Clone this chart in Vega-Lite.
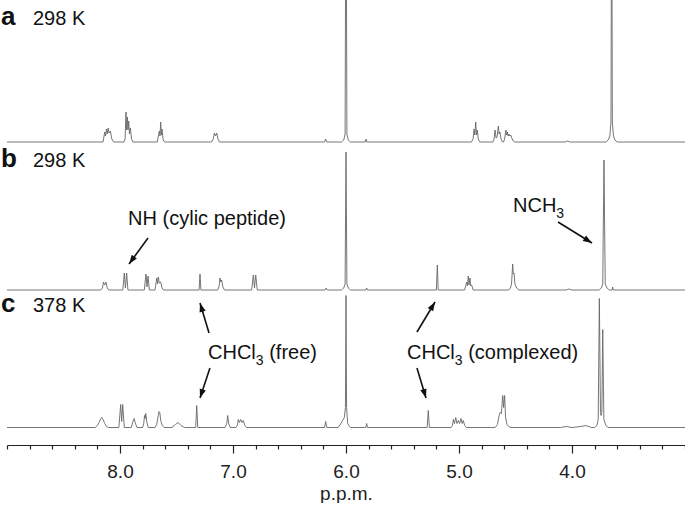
{
  "$schema": "https://vega.github.io/schema/vega-lite/v6.json",
  "padding": {"left": 1, "top": 0, "right": 0, "bottom": 0},
  "spacing": 0,
  "bounds": "flush",
  "config": {
    "view": {"stroke": null},
    "font": "Liberation Sans",
    "text": {"font": "Liberation Sans", "color": "#111"}
  },
  "datasets": {
    "a": [
      {"ppm": 9.0, "i": 0},
      {"ppm": 8.15, "i": 0}, {"ppm": 8.135, "i": 10}, {"ppm": 8.128, "i": 6}, {"ppm": 8.12, "i": 13}, {"ppm": 8.113, "i": 8}, {"ppm": 8.105, "i": 14}, {"ppm": 8.097, "i": 9}, {"ppm": 8.085, "i": 11}, {"ppm": 8.075, "i": 4}, {"ppm": 8.068, "i": 2}, {"ppm": 8.055, "i": 0},
      {"ppm": 7.965, "i": 0}, {"ppm": 7.955, "i": 3}, {"ppm": 7.947, "i": 30}, {"ppm": 7.941, "i": 12}, {"ppm": 7.935, "i": 25}, {"ppm": 7.929, "i": 12}, {"ppm": 7.923, "i": 21}, {"ppm": 7.916, "i": 8}, {"ppm": 7.908, "i": 14}, {"ppm": 7.898, "i": 3}, {"ppm": 7.885, "i": 0},
      {"ppm": 7.67, "i": 0}, {"ppm": 7.652, "i": 11}, {"ppm": 7.646, "i": 6}, {"ppm": 7.64, "i": 20}, {"ppm": 7.634, "i": 7}, {"ppm": 7.628, "i": 13}, {"ppm": 7.618, "i": 2}, {"ppm": 7.605, "i": 0},
      {"ppm": 7.19, "i": 0}, {"ppm": 7.175, "i": 3}, {"ppm": 7.165, "i": 9}, {"ppm": 7.155, "i": 6}, {"ppm": 7.144, "i": 9}, {"ppm": 7.133, "i": 3}, {"ppm": 7.12, "i": 0},
      {"ppm": 6.19, "i": 0}, {"ppm": 6.18, "i": 3}, {"ppm": 6.17, "i": 0},
      {"ppm": 6.04, "i": 0}, {"ppm": 6.02, "i": 2}, {"ppm": 6.008, "i": 8}, {"ppm": 6.0, "i": 300}, {"ppm": 5.992, "i": 8}, {"ppm": 5.98, "i": 2}, {"ppm": 5.96, "i": 0},
      {"ppm": 5.83, "i": 0}, {"ppm": 5.823, "i": 3}, {"ppm": 5.816, "i": 0},
      {"ppm": 4.89, "i": 0}, {"ppm": 4.875, "i": 3}, {"ppm": 4.867, "i": 13}, {"ppm": 4.86, "i": 7}, {"ppm": 4.852, "i": 20}, {"ppm": 4.845, "i": 7}, {"ppm": 4.838, "i": 12}, {"ppm": 4.83, "i": 3}, {"ppm": 4.815, "i": 0},
      {"ppm": 4.7, "i": 0}, {"ppm": 4.69, "i": 3}, {"ppm": 4.681, "i": 12}, {"ppm": 4.672, "i": 4}, {"ppm": 4.663, "i": 5}, {"ppm": 4.652, "i": 16}, {"ppm": 4.645, "i": 8}, {"ppm": 4.638, "i": 10}, {"ppm": 4.628, "i": 3}, {"ppm": 4.615, "i": 0},
      {"ppm": 4.605, "i": 0}, {"ppm": 4.595, "i": 4}, {"ppm": 4.585, "i": 12}, {"ppm": 4.578, "i": 7}, {"ppm": 4.572, "i": 10}, {"ppm": 4.565, "i": 6}, {"ppm": 4.558, "i": 8}, {"ppm": 4.55, "i": 6}, {"ppm": 4.542, "i": 7}, {"ppm": 4.533, "i": 4}, {"ppm": 4.52, "i": 1}, {"ppm": 4.505, "i": 0},
      {"ppm": 4.06, "i": 0}, {"ppm": 4.04, "i": 1}, {"ppm": 4.02, "i": 0},
      {"ppm": 3.7, "i": 0}, {"ppm": 3.68, "i": 2}, {"ppm": 3.665, "i": 6}, {"ppm": 3.655, "i": 20}, {"ppm": 3.649, "i": 300}, {"ppm": 3.643, "i": 20}, {"ppm": 3.633, "i": 6}, {"ppm": 3.62, "i": 2}, {"ppm": 3.6, "i": 0},
      {"ppm": 3.0, "i": 0}
    ],
    "b": [
      {"ppm": 9.0, "i": 0},
      {"ppm": 8.17, "i": 0}, {"ppm": 8.155, "i": 2}, {"ppm": 8.147, "i": 8}, {"ppm": 8.136, "i": 5}, {"ppm": 8.124, "i": 8}, {"ppm": 8.113, "i": 2}, {"ppm": 8.1, "i": 0},
      {"ppm": 7.975, "i": 0}, {"ppm": 7.962, "i": 17}, {"ppm": 7.952, "i": 2}, {"ppm": 7.941, "i": 17}, {"ppm": 7.93, "i": 0},
      {"ppm": 7.785, "i": 0}, {"ppm": 7.77, "i": 16}, {"ppm": 7.761, "i": 3}, {"ppm": 7.752, "i": 14}, {"ppm": 7.74, "i": 0},
      {"ppm": 7.69, "i": 0}, {"ppm": 7.675, "i": 12}, {"ppm": 7.668, "i": 6}, {"ppm": 7.661, "i": 13}, {"ppm": 7.652, "i": 7}, {"ppm": 7.64, "i": 8}, {"ppm": 7.628, "i": 2}, {"ppm": 7.615, "i": 0},
      {"ppm": 7.3, "i": 0}, {"ppm": 7.292, "i": 16}, {"ppm": 7.284, "i": 0},
      {"ppm": 7.135, "i": 0}, {"ppm": 7.123, "i": 4}, {"ppm": 7.115, "i": 12}, {"ppm": 7.108, "i": 8}, {"ppm": 7.1, "i": 10}, {"ppm": 7.09, "i": 3}, {"ppm": 7.075, "i": 0},
      {"ppm": 6.835, "i": 0}, {"ppm": 6.82, "i": 15}, {"ppm": 6.81, "i": 2}, {"ppm": 6.799, "i": 15}, {"ppm": 6.785, "i": 0},
      {"ppm": 6.185, "i": 0}, {"ppm": 6.175, "i": 2}, {"ppm": 6.165, "i": 0},
      {"ppm": 6.04, "i": 0}, {"ppm": 6.02, "i": 2}, {"ppm": 6.008, "i": 6}, {"ppm": 6.0, "i": 138}, {"ppm": 5.992, "i": 6}, {"ppm": 5.98, "i": 2}, {"ppm": 5.96, "i": 0},
      {"ppm": 5.825, "i": 0}, {"ppm": 5.817, "i": 2}, {"ppm": 5.81, "i": 0},
      {"ppm": 5.2, "i": 0}, {"ppm": 5.192, "i": 25}, {"ppm": 5.184, "i": 0},
      {"ppm": 4.95, "i": 0}, {"ppm": 4.932, "i": 8}, {"ppm": 4.925, "i": 4}, {"ppm": 4.918, "i": 14}, {"ppm": 4.911, "i": 5}, {"ppm": 4.903, "i": 12}, {"ppm": 4.896, "i": 4}, {"ppm": 4.888, "i": 5}, {"ppm": 4.875, "i": 0},
      {"ppm": 4.56, "i": 0}, {"ppm": 4.545, "i": 2}, {"ppm": 4.535, "i": 6}, {"ppm": 4.525, "i": 26}, {"ppm": 4.519, "i": 16}, {"ppm": 4.513, "i": 17}, {"ppm": 4.505, "i": 6}, {"ppm": 4.49, "i": 2}, {"ppm": 4.47, "i": 0},
      {"ppm": 4.05, "i": 0}, {"ppm": 4.03, "i": 1}, {"ppm": 4.0, "i": 0},
      {"ppm": 3.76, "i": 0}, {"ppm": 3.74, "i": 2}, {"ppm": 3.728, "i": 6}, {"ppm": 3.717, "i": 130}, {"ppm": 3.706, "i": 6}, {"ppm": 3.69, "i": 2}, {"ppm": 3.67, "i": 0},
      {"ppm": 3.645, "i": 0}, {"ppm": 3.64, "i": 3}, {"ppm": 3.635, "i": 0},
      {"ppm": 3.0, "i": 0}
    ],
    "c": [
      {"ppm": 9.0, "i": 0},
      {"ppm": 8.22, "i": 0}, {"ppm": 8.2, "i": 2}, {"ppm": 8.185, "i": 5}, {"ppm": 8.17, "i": 9}, {"ppm": 8.16, "i": 10}, {"ppm": 8.15, "i": 8}, {"ppm": 8.135, "i": 4}, {"ppm": 8.12, "i": 1}, {"ppm": 8.1, "i": 0},
      {"ppm": 8.01, "i": 0}, {"ppm": 7.994, "i": 23}, {"ppm": 7.985, "i": 6}, {"ppm": 7.976, "i": 23}, {"ppm": 7.962, "i": 0},
      {"ppm": 7.9, "i": 0}, {"ppm": 7.886, "i": 6}, {"ppm": 7.876, "i": 9}, {"ppm": 7.866, "i": 5}, {"ppm": 7.85, "i": 0},
      {"ppm": 7.8, "i": 0}, {"ppm": 7.79, "i": 4}, {"ppm": 7.783, "i": 12}, {"ppm": 7.778, "i": 9}, {"ppm": 7.772, "i": 14}, {"ppm": 7.762, "i": 5}, {"ppm": 7.75, "i": 0},
      {"ppm": 7.69, "i": 0}, {"ppm": 7.675, "i": 3}, {"ppm": 7.662, "i": 12}, {"ppm": 7.655, "i": 16}, {"ppm": 7.648, "i": 15}, {"ppm": 7.638, "i": 6}, {"ppm": 7.625, "i": 2}, {"ppm": 7.61, "i": 0},
      {"ppm": 7.54, "i": 0}, {"ppm": 7.51, "i": 3}, {"ppm": 7.485, "i": 5}, {"ppm": 7.46, "i": 2}, {"ppm": 7.43, "i": 0},
      {"ppm": 7.33, "i": 0}, {"ppm": 7.321, "i": 22}, {"ppm": 7.312, "i": 0},
      {"ppm": 7.07, "i": 0}, {"ppm": 7.055, "i": 4}, {"ppm": 7.047, "i": 12}, {"ppm": 7.038, "i": 4}, {"ppm": 7.025, "i": 0},
      {"ppm": 6.975, "i": 0}, {"ppm": 6.962, "i": 2}, {"ppm": 6.953, "i": 8}, {"ppm": 6.943, "i": 5}, {"ppm": 6.932, "i": 8}, {"ppm": 6.92, "i": 5}, {"ppm": 6.909, "i": 7}, {"ppm": 6.895, "i": 2}, {"ppm": 6.88, "i": 0},
      {"ppm": 6.19, "i": 0}, {"ppm": 6.18, "i": 6}, {"ppm": 6.17, "i": 0},
      {"ppm": 6.07, "i": 0}, {"ppm": 6.045, "i": 4}, {"ppm": 6.03, "i": 7}, {"ppm": 6.015, "i": 10}, {"ppm": 6.005, "i": 20}, {"ppm": 6.0, "i": 132}, {"ppm": 5.995, "i": 20}, {"ppm": 5.985, "i": 4}, {"ppm": 5.975, "i": 2}, {"ppm": 5.96, "i": 0},
      {"ppm": 5.825, "i": 0}, {"ppm": 5.817, "i": 4}, {"ppm": 5.81, "i": 0},
      {"ppm": 5.282, "i": 0}, {"ppm": 5.272, "i": 17}, {"ppm": 5.262, "i": 0},
      {"ppm": 5.07, "i": 0}, {"ppm": 5.058, "i": 2}, {"ppm": 5.05, "i": 8}, {"ppm": 5.04, "i": 4}, {"ppm": 5.029, "i": 10}, {"ppm": 5.018, "i": 4}, {"ppm": 5.006, "i": 7}, {"ppm": 4.995, "i": 4}, {"ppm": 4.982, "i": 9}, {"ppm": 4.972, "i": 4}, {"ppm": 4.962, "i": 7}, {"ppm": 4.95, "i": 2}, {"ppm": 4.935, "i": 0},
      {"ppm": 4.68, "i": 0}, {"ppm": 4.66, "i": 3}, {"ppm": 4.645, "i": 12}, {"ppm": 4.637, "i": 15}, {"ppm": 4.625, "i": 14}, {"ppm": 4.613, "i": 32}, {"ppm": 4.605, "i": 20}, {"ppm": 4.596, "i": 32}, {"ppm": 4.588, "i": 10}, {"ppm": 4.575, "i": 3}, {"ppm": 4.56, "i": 1}, {"ppm": 4.54, "i": 0},
      {"ppm": 4.1, "i": 0}, {"ppm": 4.05, "i": 1}, {"ppm": 4.0, "i": 0}, {"ppm": 3.92, "i": 1}, {"ppm": 3.88, "i": 2}, {"ppm": 3.85, "i": 1}, {"ppm": 3.83, "i": 0},
      {"ppm": 3.8, "i": 0}, {"ppm": 3.78, "i": 2}, {"ppm": 3.768, "i": 8}, {"ppm": 3.758, "i": 129}, {"ppm": 3.748, "i": 15}, {"ppm": 3.743, "i": 12}, {"ppm": 3.736, "i": 15}, {"ppm": 3.728, "i": 98}, {"ppm": 3.718, "i": 8}, {"ppm": 3.7, "i": 2}, {"ppm": 3.68, "i": 0},
      {"ppm": 3.0, "i": 0}
    ],
    "letA": [{"t": "a", "ppm": 9.0, "i": 117}],
    "tempA": [{"t": "298 K", "ppm": 8.77, "i": 117}],
    "letB": [{"t": "b", "ppm": 9.0, "i": 123}],
    "tempB": [{"t": "298 K", "ppm": 8.77, "i": 123}],
    "letC": [{"t": "c", "ppm": 9.0, "i": 115.5}],
    "tempC": [{"t": "378 K", "ppm": 8.77, "i": 115.5}],
    "annBcenter": [{"t": "NH (cylic peptide)", "ppm": 7.23, "i": 65}],
    "annBleft": [{"t": "NCH", "ppm": 4.522, "i": 78}],
    "annBsub": [{"t": "3", "ppm": 4.139, "i": 72}],
    "arrB": [
      {"id": "nh", "ppm": 7.92, "i": 26, "ppm2": 7.752, "i2": 52},
      {"id": "nch3", "ppm": 3.823, "i": 47, "ppm2": 4.124, "i2": 68}
    ],
    "annCleft": [
      {"t": "CHCl", "ppm": 7.221, "i": 68.5},
      {"t": "(free)", "ppm": 6.68, "i": 68.5},
      {"t": "CHCl", "ppm": 5.46, "i": 68.5},
      {"t": "(complexed)", "ppm": 4.919, "i": 68.5}
    ],
    "annCsub": [
      {"t": "3", "ppm": 6.798, "i": 62.5},
      {"t": "3", "ppm": 5.037, "i": 62.5}
    ],
    "arrC": [
      {"id": "fu", "ppm": 7.292, "i": 124.5, "ppm2": 7.212, "i2": 94.5},
      {"id": "fd", "ppm": 7.292, "i": 29.5, "ppm2": 7.204, "i2": 59.5},
      {"id": "cu", "ppm": 5.212, "i": 125.5, "ppm2": 5.372, "i2": 95.5},
      {"id": "cd", "ppm": 5.292, "i": 29.5, "ppm2": 5.372, "i2": 59.5}
    ]
  },
  "vconcat": [
    {
      "width": 678,
      "height": 146,
      "encoding": {
        "x": {"field": "ppm", "type": "quantitative", "scale": {"domain": [3, 9], "reverse": true, "nice": false, "zero": false}, "axis": null},
        "y": {"field": "i", "type": "quantitative", "scale": {"domain": [-4, 142], "nice": false, "zero": false}, "axis": null}
      },
      "layer": [
        {"data": {"name": "a"}, "mark": {"type": "line", "clip": true, "color": "#666666", "strokeWidth": 0.9}},
        {"data": {"name": "letA"}, "mark": {"type": "text", "align": "left", "baseline": "alphabetic", "dx": -6, "fontSize": 26, "fontWeight": "bold"}, "encoding": {"text": {"field": "t"}}},
        {"data": {"name": "tempA"}, "mark": {"type": "text", "align": "left", "baseline": "alphabetic", "fontSize": 20}, "encoding": {"text": {"field": "t"}}}
      ]
    },
    {
      "width": 678,
      "height": 148,
      "encoding": {
        "x": {"field": "ppm", "type": "quantitative", "scale": {"domain": [3, 9], "reverse": true, "nice": false, "zero": false}, "axis": null},
        "y": {"field": "i", "type": "quantitative", "scale": {"domain": [-4, 144], "nice": false, "zero": false}, "axis": null}
      },
      "layer": [
        {"data": {"name": "b"}, "mark": {"type": "line", "clip": true, "color": "#666666", "strokeWidth": 0.9}},
        {"data": {"name": "letB"}, "mark": {"type": "text", "align": "left", "baseline": "alphabetic", "dx": -6, "fontSize": 26, "fontWeight": "bold"}, "encoding": {"text": {"field": "t"}}},
        {"data": {"name": "tempB"}, "mark": {"type": "text", "align": "left", "baseline": "alphabetic", "fontSize": 20}, "encoding": {"text": {"field": "t"}}},
        {"data": {"name": "annBcenter"}, "mark": {"type": "text", "align": "center", "baseline": "alphabetic", "fontSize": 20}, "encoding": {"text": {"field": "t"}}},
        {"data": {"name": "annBleft"}, "mark": {"type": "text", "align": "left", "baseline": "alphabetic", "fontSize": 20}, "encoding": {"text": {"field": "t"}}},
        {"data": {"name": "annBsub"}, "mark": {"type": "text", "align": "left", "baseline": "alphabetic", "fontSize": 14}, "encoding": {"text": {"field": "t"}}},
        {"data": {"name": "arrB"}, "mark": {"type": "rule", "color": "#111", "strokeWidth": 1.6}, "encoding": {"x2": {"field": "ppm2"}, "y2": {"field": "i2"}}},
        {"data": {"name": "arrB"}, "transform": [{"filter": "datum.id === 'nh'"}], "mark": {"type": "point", "shape": "M0,0L0.85,2.4L-0.85,2.4Z", "size": 56, "filled": true, "opacity": 1, "color": "#111", "angle": 216}, "encoding": {}},
        {"data": {"name": "arrB"}, "transform": [{"filter": "datum.id === 'nch3'"}], "mark": {"type": "point", "shape": "M0,0L0.85,2.4L-0.85,2.4Z", "size": 56, "filled": true, "opacity": 1, "color": "#111", "angle": 122}, "encoding": {}}
      ]
    },
    {
      "width": 678,
      "height": 151,
      "encoding": {
        "x": {
          "field": "ppm", "type": "quantitative",
          "scale": {"domain": [3, 9], "reverse": true, "nice": false, "zero": false},
          "axis": {
            "values": [3, 3.2, 3.4, 3.6, 3.8, 4, 4.2, 4.4, 4.6, 4.8, 5, 5.2, 5.4, 5.6, 5.8, 6, 6.2, 6.4, 6.6, 6.8, 7, 7.2, 7.4, 7.6, 7.8, 8, 8.2, 8.4, 8.6, 8.8, 9],
            "labelExpr": "(abs(datum.value - round(datum.value)) < 0.01 && datum.value > 3.5 && datum.value < 8.5) ? format(datum.value, '.1f') : ''",
            "tickSize": {"condition": {"test": "abs(datum.value - round(datum.value)) < 0.01 && datum.value > 3.5 && datum.value < 8.5", "value": 8}, "value": 4},
            "title": "p.p.m.",
            "grid": false,
            "domainColor": "#222", "domainWidth": 1.2,
            "tickColor": "#222", "tickWidth": 1.2,
            "labelFont": "Liberation Sans", "labelFontSize": 19, "labelColor": "#222", "labelPadding": 9,
            "labelFlush": false, "labelOverlap": false,
            "titleFont": "Liberation Sans", "titleFontSize": 19, "titleFontWeight": "normal", "titleColor": "#222", "titlePadding": 3
          }
        },
        "y": {"field": "i", "type": "quantitative", "scale": {"domain": [-17.5, 133.5], "nice": false, "zero": false}, "axis": null}
      },
      "layer": [
        {"data": {"name": "c"}, "mark": {"type": "line", "clip": true, "color": "#666666", "strokeWidth": 0.9}},
        {"data": {"name": "letC"}, "mark": {"type": "text", "align": "left", "baseline": "alphabetic", "dx": -6, "fontSize": 26, "fontWeight": "bold"}, "encoding": {"text": {"field": "t"}}},
        {"data": {"name": "tempC"}, "mark": {"type": "text", "align": "left", "baseline": "alphabetic", "fontSize": 20}, "encoding": {"text": {"field": "t"}}},
        {"data": {"name": "annCleft"}, "mark": {"type": "text", "align": "left", "baseline": "alphabetic", "fontSize": 20}, "encoding": {"text": {"field": "t"}}},
        {"data": {"name": "annCsub"}, "mark": {"type": "text", "align": "left", "baseline": "alphabetic", "fontSize": 14}, "encoding": {"text": {"field": "t"}}},
        {"data": {"name": "arrC"}, "mark": {"type": "rule", "color": "#111", "strokeWidth": 1.6}, "encoding": {"x2": {"field": "ppm2"}, "y2": {"field": "i2"}}},
        {"data": {"name": "arrC"}, "transform": [{"filter": "datum.id === 'fu'"}], "mark": {"type": "point", "shape": "M0,0L0.85,2.4L-0.85,2.4Z", "size": 56, "filled": true, "opacity": 1, "color": "#111", "angle": 343}, "encoding": {}},
        {"data": {"name": "arrC"}, "transform": [{"filter": "datum.id === 'fd'"}], "mark": {"type": "point", "shape": "M0,0L0.85,2.4L-0.85,2.4Z", "size": 56, "filled": true, "opacity": 1, "color": "#111", "angle": 198}, "encoding": {}},
        {"data": {"name": "arrC"}, "transform": [{"filter": "datum.id === 'cu'"}], "mark": {"type": "point", "shape": "M0,0L0.85,2.4L-0.85,2.4Z", "size": 56, "filled": true, "opacity": 1, "color": "#111", "angle": 31}, "encoding": {}},
        {"data": {"name": "arrC"}, "transform": [{"filter": "datum.id === 'cd'"}], "mark": {"type": "point", "shape": "M0,0L0.85,2.4L-0.85,2.4Z", "size": 56, "filled": true, "opacity": 1, "color": "#111", "angle": 163}, "encoding": {}}
      ]
    }
  ]
}
